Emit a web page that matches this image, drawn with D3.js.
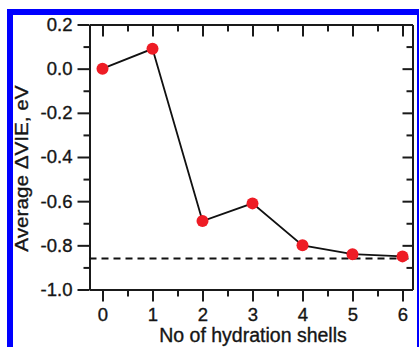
<!DOCTYPE html>
<html>
<head>
<meta charset="utf-8">
<script src="https://cdn.jsdelivr.net/npm/d3@7"></script>
<style>
  html, body { margin: 0; padding: 0; background: #fff; }
  svg { display: block; }
  text { font-family: "Liberation Sans", Arial, Helvetica, sans-serif; fill: #151515; }
</style>
</head>
<body>
<svg id="chart" width="419" height="347"></svg>
<script>
// Number of hydration shells and the average change in VIE (eV)
const shells = [0, 1, 2, 3, 4, 5, 6];
const avgDeltaVIE = [0.0, 0.09, -0.69, -0.61, -0.80, -0.84, -0.85];
// Bulk limit drawn as a dashed reference line
const bulkLimit = [-0.86];

const xTicks = [0, 1, 2, 3, 4, 5, 6];
const yTicks = [0.2, 0.0, -0.2, -0.4, -0.6, -0.8, -1.0];

const svg = d3.select("#chart");

// Blue frame around the figure
svg.append("rect")
  .attr("x", 10).attr("y", 12)
  .attr("width", 410).attr("height", 350)
  .attr("fill", "none")
  .attr("stroke", "#0000ff")
  .attr("stroke-width", 6);

const plotLeft = 89.5, plotRight = 412.5, plotTop = 24.5, plotBottom = 289.5;

const x = d3.scaleLinear().domain([-0.26, 6.2]).range([plotLeft, plotRight]);
const y = d3.scaleLinear().domain([-1.0, 0.2]).range([plotBottom, plotTop]);

const axisColor = "#1a1a1a";
const minorX = d3.range(0, 6.01, 0.5).filter(v => !Number.isInteger(v));
const minorY = d3.range(-0.9, 0.2, 0.2).map(v => +v.toFixed(1));

function styleAxis(g) {
  g.selectAll("path").attr("stroke", axisColor).attr("stroke-width", 2);
  g.selectAll("line").attr("stroke", axisColor).attr("stroke-width", 2);
  g.selectAll("text").attr("font-size", 18.5).attr("fill", "#151515")
    .attr("stroke", "#151515").attr("stroke-width", 0.35)
    .attr("font-family", "'Liberation Sans', Arial, sans-serif");
}

// Bottom axis: outward ticks with labels
const gB = svg.append("g").attr("transform", `translate(0,${plotBottom})`)
  .call(d3.axisBottom(x).tickValues(xTicks).tickFormat(d3.format("d"))
    .tickSizeInner(12).tickSizeOuter(0).tickPadding(6));
styleAxis(gB);
svg.append("g").attr("transform", `translate(0,${plotBottom})`)
  .call(d3.axisBottom(x).tickValues(minorX).tickFormat("").tickSizeInner(7).tickSizeOuter(0))
  .call(g => { g.select("path").remove(); styleAxis(g); });

// Top axis: inward ticks, no labels
const gT = svg.append("g").attr("transform", `translate(0,${plotTop})`)
  .call(d3.axisTop(x).tickValues(xTicks).tickFormat("").tickSizeInner(-12).tickSizeOuter(0));
styleAxis(gT);
svg.append("g").attr("transform", `translate(0,${plotTop})`)
  .call(d3.axisTop(x).tickValues(minorX).tickFormat("").tickSizeInner(-7).tickSizeOuter(0))
  .call(g => { g.select("path").remove(); styleAxis(g); });

// Left axis: outward ticks with labels
const gL = svg.append("g").attr("transform", `translate(${plotLeft},0)`)
  .call(d3.axisLeft(y).tickValues(yTicks).tickFormat(d => d3.format(".1f")(d).replace("−", "-"))
    .tickSizeInner(12).tickSizeOuter(0).tickPadding(5));
styleAxis(gL);
svg.append("g").attr("transform", `translate(${plotLeft},0)`)
  .call(d3.axisLeft(y).tickValues(minorY).tickFormat("").tickSizeInner(6).tickSizeOuter(0))
  .call(g => { g.select("path").remove(); styleAxis(g); });

// Right axis: inward ticks, no labels
const gR = svg.append("g").attr("transform", `translate(${plotRight},0)`)
  .call(d3.axisRight(y).tickValues(yTicks).tickFormat("").tickSizeInner(-10).tickSizeOuter(0));
styleAxis(gR);
svg.append("g").attr("transform", `translate(${plotRight},0)`)
  .call(d3.axisRight(y).tickValues(minorY).tickFormat("").tickSizeInner(-6).tickSizeOuter(0))
  .call(g => { g.select("path").remove(); styleAxis(g); });

// Dashed bulk-limit line
svg.selectAll("line.bulk").data(bulkLimit).enter().append("line")
  .attr("class", "bulk")
  .attr("x1", plotLeft).attr("x2", plotRight)
  .attr("y1", d => y(d)).attr("y2", d => y(d))
  .attr("stroke", "#111").attr("stroke-width", 2)
  .attr("stroke-dasharray", "7,5");

// Connecting line
const pts = shells.map((s, i) => [s, avgDeltaVIE[i]]);
svg.append("path")
  .datum(pts)
  .attr("fill", "none")
  .attr("stroke", "#111")
  .attr("stroke-width", 1.8)
  .attr("d", d3.line().x(d => x(d[0])).y(d => y(d[1])));

// Markers
svg.selectAll("circle.pt").data(pts).enter().append("circle")
  .attr("class", "pt")
  .attr("cx", d => x(d[0])).attr("cy", d => y(d[1]))
  .attr("r", 6)
  .attr("fill", "#ee1c25");

// Axis titles
svg.append("text")
  .attr("x", 253).attr("y", 342)
  .attr("text-anchor", "middle")
  .attr("font-size", 19.5)
  .attr("stroke", "#151515").attr("stroke-width", 0.35)
  .text("No of hydration shells");

svg.append("text")
  .attr("transform", "translate(28,168.5) rotate(-90) scale(1.15,1)")
  .attr("text-anchor", "middle")
  .attr("font-size", 18)
  .attr("stroke", "#151515").attr("stroke-width", 0.35)
  .text("Average ΔVIE, eV");
</script>
</body>
</html>
